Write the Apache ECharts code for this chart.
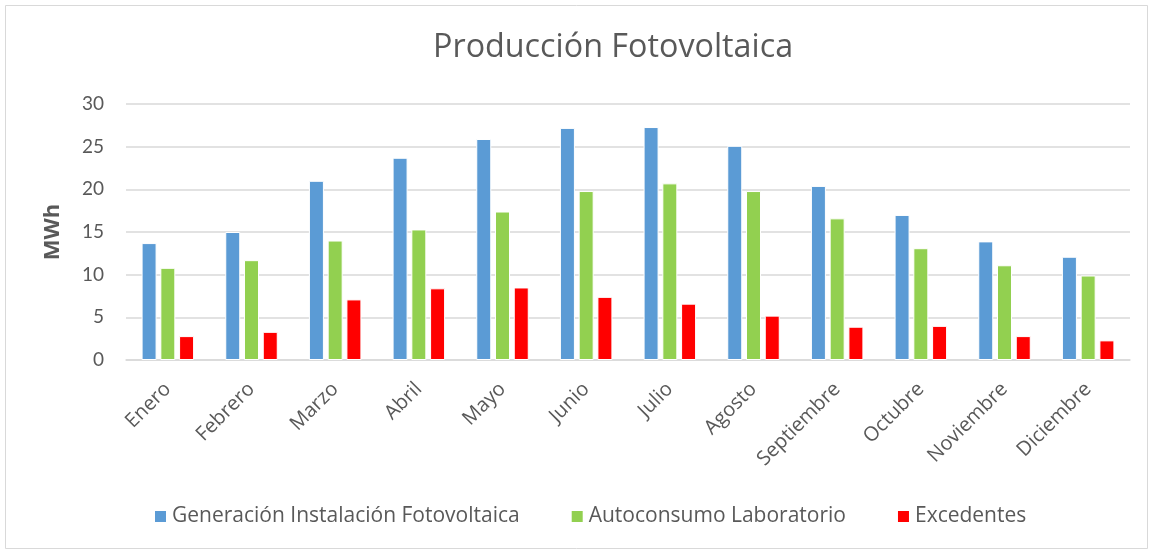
<!DOCTYPE html>
<html>
<head>
<meta charset="utf-8">
<script src="https://cdn.jsdelivr.net/npm/echarts@6/dist/echarts.min.js"></script>
<style>
  html, body { margin: 0; padding: 0; background: #fff; }
  #chart { width: 1153px; height: 551px; }
</style>
</head>
<body>
<div id="chart"></div>
<script>
var meses = ['Enero', 'Febrero', 'Marzo', 'Abril', 'Mayo', 'Junio', 'Julio', 'Agosto', 'Septiembre', 'Octubre', 'Noviembre', 'Diciembre'];
var generacion = [13.7, 15.0, 21.0, 23.7, 25.9, 27.2, 27.3, 25.1, 20.4, 17.0, 13.9, 12.1];
var autoconsumo = [10.8, 11.7, 14.0, 15.3, 17.4, 19.8, 20.7, 19.8, 16.6, 13.1, 11.1, 9.9];
var excedentes = [2.8, 3.3, 7.1, 8.4, 8.5, 7.4, 6.6, 5.2, 3.9, 4.0, 2.8, 2.3];

var fuente = '"Open Sans", Lato, sans-serif';
var gris = '#595959';

var chart = echarts.init(document.getElementById('chart'));

function serie(nombre, datos, color) {
  return {
    name: nombre,
    type: 'bar',
    data: datos,
    barWidth: 15,
    barGap: '25%',
    itemStyle: { color: color, borderColor: '#fff', borderWidth: 1 }
  };
}

var option = {
  animation: false,
  backgroundColor: '#fff',
  graphic: [{
    type: 'rect',
    shape: { x: 5.5, y: 5.5, width: 1142, height: 543 },
    style: { fill: 'none', stroke: '#d9d9d9', lineWidth: 1 }
  }],
  title: {
    text: 'Producción Fotovoltaica',
    left: 428,
    top: 27,
    textStyle: { fontFamily: fuente, fontSize: 32.3, fontWeight: 'normal', color: gris }
  },
  legend: {
    bottom: 19,
    left: 148,
    itemWidth: 13,
    itemHeight: 13,
    itemGap: 50,
    icon: 'rect',
    textStyle: { fontFamily: fuente, fontSize: 21, color: gris }
  },
  grid: { left: 126, right: 23, top: 104, bottom: 191 },
  xAxis: {
    type: 'category',
    data: meses,
    axisTick: { show: false },
    axisLine: { lineStyle: { color: '#d9d9d9', width: 1.5 } },
    axisLabel: { rotate: 45, fontFamily: fuente, fontSize: 20, color: gris, margin: 26, interval: 0 }
  },
  yAxis: {
    type: 'value',
    min: 0,
    max: 30,
    interval: 5,
    name: 'MWh',
    nameLocation: 'middle',
    nameGap: 62,
    nameTextStyle: { fontFamily: fuente, fontSize: 22, fontWeight: 'bold', color: gris },
    axisLabel: { fontFamily: 'Lato, sans-serif', fontSize: 19, color: gris, margin: 22 },
    splitLine: { lineStyle: { color: '#d9d9d9', width: 1.5 } }
  },
  series: [
    serie('Generación Instalación Fotovoltaica', generacion, '#5b9bd5'),
    serie('Autoconsumo Laboratorio', autoconsumo, '#92d050'),
    serie('Excedentes', excedentes, '#ff0000')
  ]
};

chart.setOption(option);
</script>
</body>
</html>
